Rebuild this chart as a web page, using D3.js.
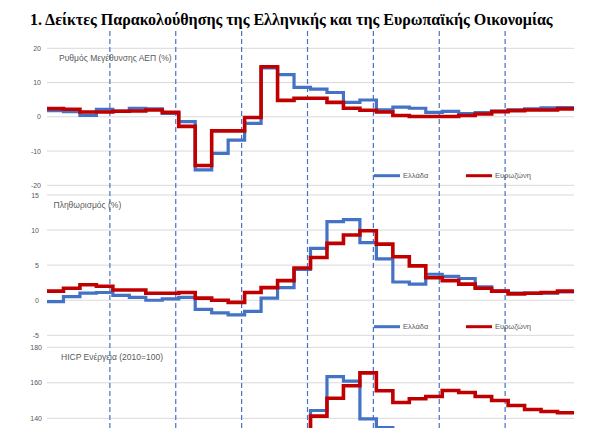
<!DOCTYPE html>
<html>
<head>
<meta charset="utf-8">
<script src="https://cdn.jsdelivr.net/npm/d3@7"></script>
<style>
body { margin: 0; background: #fff; }
</style>
</head>
<body>
<div id="chart"></div>
<script>
const width = 600,
    height = 428
const years = [2018, 2019, 2020, 2021, 2022, 2023, 2024, 2025]
const quarters = years.flatMap(y => ['Q1', 'Q2', 'Q3', 'Q4'].map(q => y + q))
const yearMarks = ['2019Q1', '2020Q1', '2021Q1', '2022Q1', '2023Q1', '2024Q1', '2025Q1']

// Ρυθμός μεγέθυνσης ΑΕΠ (%)
const gdpGreece = [1.8, 1.5, 0.4, 2.2, 1.7, 2.5, 2.3, 1.0, -1.4, -15.5, -10.7, -6.8, -1.9, 14.3, 12.3, 8.6,
    8.1, 7.1, 4.2, 4.9, 2.0, 2.8, 2.5, 1.3, 1.6, 0.9, 1.2, 1.7, 2.0, 2.3, 2.6, 2.7]
const gdpEuro = [2.4, 2.2, 1.4, 1.4, 1.6, 1.7, 2.0, 1.3, -2.8, -14.2, -4.1, -4.1, -0.2, 14.6, 4.8, 5.4,
    5.4, 4.2, 2.5, 1.9, 1.4, 0.4, 0.1, 0.1, 0.1, 0.4, 0.8, 1.5, 1.8, 2.0, 2.0, 2.3]
// Πληθωρισμός (%)
const inflGreece = [-0.2, 0.5, 1.0, 1.1, 0.7, 0.4, 0.0, 0.2, 0.4, -1.3, -1.8, -2.1, -1.6, 0.3, 1.8, 4.4,
    7.4, 11.2, 11.5, 8.2, 5.9, 2.6, 2.3, 3.7, 3.4, 3.1, 1.9, 1.3, 1.0, 1.0, 1.0, 1.2]
const inflEuro = [1.3, 1.7, 2.2, 2.0, 1.45, 1.45, 1.0, 1.0, 1.1, 0.3, 0.0, -0.3, 1.1, 1.8, 2.8, 4.6,
    6.1, 8.1, 9.3, 9.9, 8.0, 6.2, 4.9, 3.2, 2.8, 2.3, 1.7, 1.3, 0.9, 1.0, 1.1, 1.3]
// HICP Ενέργεια (2010=100)
const energyGreece = [112, 115, 118, 115, 113, 116, 115, 112, 108, 95, 100, 98, 104, 110, 114, 127,
    144.4, 163.5, 160.9, 139.7, 134.8, 126, 128, 129, 127, 125, 127, 128, 126, 125, 124, 125]
const energyEuro = [107, 109, 112, 110, 108, 110, 109, 108, 105, 97, 99, 100, 105, 109, 114, 126,
    141.2, 151.3, 158.3, 165.6, 155.5, 148.9, 151, 152.3, 155.7, 154.5, 152.3, 150, 147.2, 145, 143.8, 143.1]

const gdpTicks = [-20, -10, 0, 10, 20]
const inflTicks = [-5, 0, 5, 10, 15]
const energyTicks = [140, 160, 180]

const blue = '#4472C4',
    red = '#C00000',
    grey = '#595959'

const panels = [
    {title: 'Ρυθμός Μεγέθυνσης ΑΕΠ (%)', greece: gdpGreece, euro: gdpEuro, ticks: gdpTicks,
        domain: [-20, 20], range: [185.3, 48.3], titleX: 59, labelX: 41, legendY: 175.7},
    {title: 'Πληθωρισμός  (%)', greece: inflGreece, euro: inflEuro, ticks: inflTicks,
        domain: [-5, 15], range: [335.3, 195], titleX: 53.5, labelX: 39, legendY: 326.7},
    {title: 'HICP Ενέργεια  (2010=100)', greece: energyGreece, euro: energyEuro, ticks: energyTicks,
        domain: [140, 180], range: [418.3, 347.3], titleX: 61, labelX: 42, legendY: null}
]

const svg = d3.select('#chart')
    .append('svg')
    .attr('width', width)
    .attr('height', height)
    .style('display', 'block')

svg.append('text')
    .attr('x', 30)
    .attr('y', 25)
    .attr('font-family', 'Liberation Serif, Times New Roman, serif')
    .attr('font-weight', 'bold')
    .attr('font-size', 16)
    .attr('fill', '#000')
    .text('1. Δείκτες Παρακολούθησης της Ελληνικής και της Ευρωπαϊκής Οικονομίας')

const x = d3.scaleLinear()
    .domain([0, quarters.length])
    .range([47, 574])

const gridG = svg.append('g')
const markG = svg.append('g')
const lineG = svg.append('g')
const textG = svg.append('g')
    .attr('font-family', 'Liberation Sans, Arial, sans-serif')
    .attr('fill', grey)

panels.forEach(function (p) {
    const y = d3.scaleLinear().domain(p.domain).range(p.range)

    gridG.selectAll(null)
        .data(p.ticks)
        .enter().append('line')
        .attr('x1', x(0))
        .attr('x2', x(quarters.length))
        .attr('y1', d => y(d))
        .attr('y2', d => y(d))
        .attr('stroke', '#d9d9d9')
        .attr('stroke-width', 1)

    textG.selectAll(null)
        .data(p.ticks)
        .enter().append('text')
        .attr('x', p.labelX)
        .attr('y', d => y(d) + 2.5)
        .attr('text-anchor', 'end')
        .attr('font-size', 7)
        .text(d => d)

    textG.append('text')
        .attr('x', p.titleX)
        .attr('y', p.range[1] + 13)
        .attr('font-size', 8.5)
        .text(p.title)

    const line = d3.line()
        .x(d => x(d[0]))
        .y(d => y(d[1]))
        .curve(d3.curveStepAfter)
    const pts = s => s.map((v, i) => [i, v]).concat([[s.length, s[s.length - 1]]])

    lineG.append('path')
        .attr('d', line(pts(p.greece)))
        .attr('fill', 'none')
        .attr('stroke', blue)
        .attr('stroke-width', 3.2)
    lineG.append('path')
        .attr('d', line(pts(p.euro)))
        .attr('fill', 'none')
        .attr('stroke', red)
        .attr('stroke-width', 3.6)

    if (p.legendY !== null) {
        const leg = [{name: 'Ελλάδα', color: blue, x: 374}, {name: 'Ευρωζώνη', color: red, x: 466}]
        leg.forEach(function (l) {
            lineG.append('line')
                .attr('x1', l.x)
                .attr('x2', l.x + 26)
                .attr('y1', p.legendY)
                .attr('y2', p.legendY)
                .attr('stroke', l.color)
                .attr('stroke-width', 3)
            textG.append('text')
                .attr('x', l.x + 29)
                .attr('y', p.legendY + 2.5)
                .attr('font-size', 7.5)
                .text(l.name)
        })
    }
})

// κάθετες διακεκομμένες γραμμές στην αρχή κάθε έτους
markG.selectAll('line')
    .data(yearMarks)
    .enter().append('line')
    .attr('x1', d => x(quarters.indexOf(d)) - 3)
    .attr('x2', d => x(quarters.indexOf(d)) - 3)
    .attr('y1', 31)
    .attr('y2', height)
    .attr('stroke', blue)
    .attr('stroke-width', 1.2)
    .attr('stroke-dasharray', '5,3')
</script>
</body>
</html>
